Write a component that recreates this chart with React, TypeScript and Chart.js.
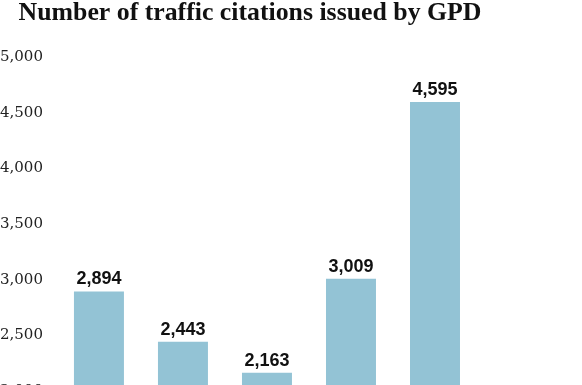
import React, { useEffect, useRef } from "react";
import { Chart, registerables } from "chart.js";

Chart.register(...registerables);

const TITLE = "Number of traffic citations issued by GPD";
const categories = ["Bar 1", "Bar 2", "Bar 3", "Bar 4", "Bar 5"];
const citations = [2894, 2443, 2163, 3009, 4595];
const yMin = 2000;
const yMax = 5000;
const yStep = 500;

const titlePlugin = {
  id: "customTitle",
  afterDraw(chart: any) {
    const ctx = chart.ctx;
    ctx.save();
    ctx.font = "bold 25.8px 'Liberation Serif', 'DejaVu Serif', serif";
    ctx.fillStyle = "#111";
    ctx.textAlign = "center";
    ctx.textBaseline = "alphabetic";
    ctx.fillText(TITLE, 256, 20);
    ctx.restore();
  },
};

const valueLabels = {
  id: "valueLabels",
  afterDatasetsDraw(chart: any) {
    const ctx = chart.ctx;
    const meta = chart.getDatasetMeta(0);
    ctx.save();
    ctx.font = "bold 18px 'Liberation Sans', Arial, sans-serif";
    ctx.fillStyle = "#111";
    ctx.textAlign = "center";
    ctx.textBaseline = "alphabetic";
    meta.data.forEach((bar: any, i: number) => {
      const v = chart.data.datasets[0].data[i] as number;
      ctx.fillText(v.toLocaleString("en-US"), bar.x, bar.y - 7);
    });
    ctx.restore();
  },
};

export default function App() {
  const ref = useRef<HTMLCanvasElement>(null);
  useEffect(() => {
    if (!ref.current) return;
    const chart = new Chart(ref.current, {
      type: "bar",
      data: {
        labels: categories,
        datasets: [
          {
            data: citations,
            backgroundColor: "#93c3d5",
            borderWidth: 0,
            categoryPercentage: 1,
            barPercentage: 0.595,
          },
        ],
      },
      options: {
        animation: false,
        responsive: false,
        devicePixelRatio: 1,
        layout: { padding: { top: 57, right: 114, bottom: 0, left: 0 } },
        plugins: {
          legend: { display: false },
          title: { display: false },
          tooltip: { enabled: false },
        },
        scales: {
          x: { display: false },
          y: {
            min: yMin,
            max: yMax,
            grid: { display: false },
            border: { display: false },
            ticks: {
              stepSize: yStep,
              padding: 6,
              color: "#222",
              font: { family: "'DejaVu Serif', serif", size: 15 },
              callback: (v: any) => Number(v).toLocaleString("en-US"),
            },
          },
        },
      },
      plugins: [titlePlugin, valueLabels],
    });
    return () => chart.destroy();
  }, []);
  return (
    <div style={{ position: "fixed", left: -6, top: 0, width: 597, height: 406, background: "#fff" }}>
      <canvas ref={ref} width={597} height={406} />
    </div>
  );
}
